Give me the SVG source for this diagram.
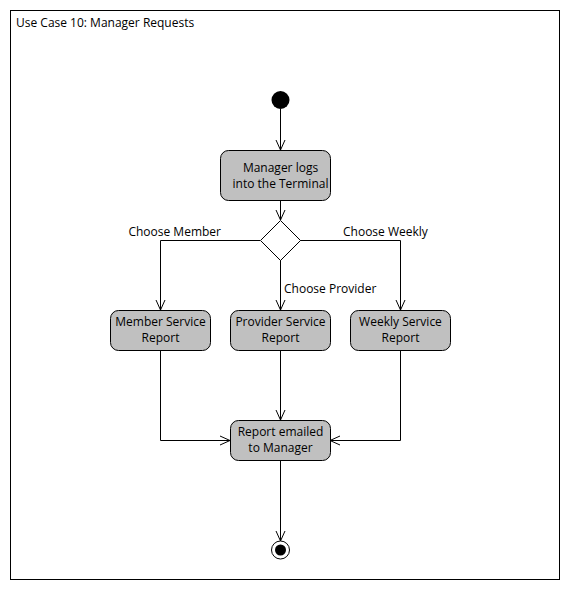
<svg xmlns="http://www.w3.org/2000/svg" width="570" height="590" viewBox="0 0 570 590">
<defs>
<style>
text{font-family:"Open Sans","Noto Sans","DejaVu Sans",sans-serif;font-size:12px;fill:#000}
.act{fill:#c0c0c0;stroke:#000;stroke-width:1}
.c{text-anchor:middle}
.ln{fill:none;stroke:#000;stroke-width:1}
</style>
<marker id="arr" viewBox="0 0 12 12" refX="11" refY="6" markerWidth="12" markerHeight="12" markerUnits="userSpaceOnUse" orient="auto">
<path d="M1,1.5 L11,6 L1,10.5" fill="none" stroke="#000" stroke-width="1"/>
</marker>
</defs>
<rect x="0" y="0" width="570" height="590" fill="#fff"/>
<g id="frame">
<rect x="10.5" y="10.5" width="549" height="569" fill="#fff" stroke="#000"/>
<text x="16" y="27">Use Case 10: Manager Requests</text>
</g>
<g id="connectors">
<path class="ln" d="M280.5,109 V150" marker-end="url(#arr)"/>
<path class="ln" d="M280.5,200 V220" marker-end="url(#arr)"/>
<path class="ln" d="M260,240.5 H160.5 V310" marker-end="url(#arr)"/>
<path class="ln" d="M280.5,260 V310" marker-end="url(#arr)"/>
<path class="ln" d="M300,240.5 H400.5 V310" marker-end="url(#arr)"/>
<path class="ln" d="M160.5,350 V440.5 H230" marker-end="url(#arr)"/>
<path class="ln" d="M280.5,350 V420" marker-end="url(#arr)"/>
<path class="ln" d="M400.5,350 V440.5 H330" marker-end="url(#arr)"/>
<path class="ln" d="M280.5,460 V541" marker-end="url(#arr)"/>
<text x="221" y="236" text-anchor="end">Choose Member</text>
<text x="343" y="236">Choose Weekly</text>
<text x="284" y="293">Choose Provider</text>
</g>
<g id="start">
<circle cx="280.5" cy="100" r="9" fill="#000"/>
</g>
<g id="login">
<rect class="act" x="220.5" y="150.5" width="110" height="50" rx="8"/>
<text class="c" x="280.5" y="172">Manager logs</text>
<text class="c" x="280.5" y="188">into the Terminal</text>
</g>
<g id="decision">
<path d="M280.5,220.5 L300.5,240.5 L280.5,260.5 L260.5,240.5 Z" fill="#fff" stroke="#000"/>
</g>
<g id="member">
<rect class="act" x="110.5" y="310.5" width="100" height="40" rx="8"/>
<text class="c" x="160.5" y="326">Member Service</text>
<text class="c" x="160.5" y="342">Report</text>
</g>
<g id="provider">
<rect class="act" x="230.5" y="310.5" width="100" height="40" rx="8"/>
<text class="c" x="280.5" y="326">Provider Service</text>
<text class="c" x="280.5" y="342">Report</text>
</g>
<g id="weekly">
<rect class="act" x="350.5" y="310.5" width="100" height="40" rx="8"/>
<text class="c" x="400.5" y="326">Weekly Service</text>
<text class="c" x="400.5" y="342">Report</text>
</g>
<g id="emailed">
<rect class="act" x="230.5" y="420.5" width="100" height="40" rx="8"/>
<text class="c" x="280.5" y="436">Report emailed</text>
<text class="c" x="280.5" y="452">to Manager</text>
</g>
<g id="end">
<circle cx="280.5" cy="550" r="9" fill="#fff" stroke="#000"/>
<circle cx="280.5" cy="550" r="5.5" fill="#000"/>
</g>
</svg>
